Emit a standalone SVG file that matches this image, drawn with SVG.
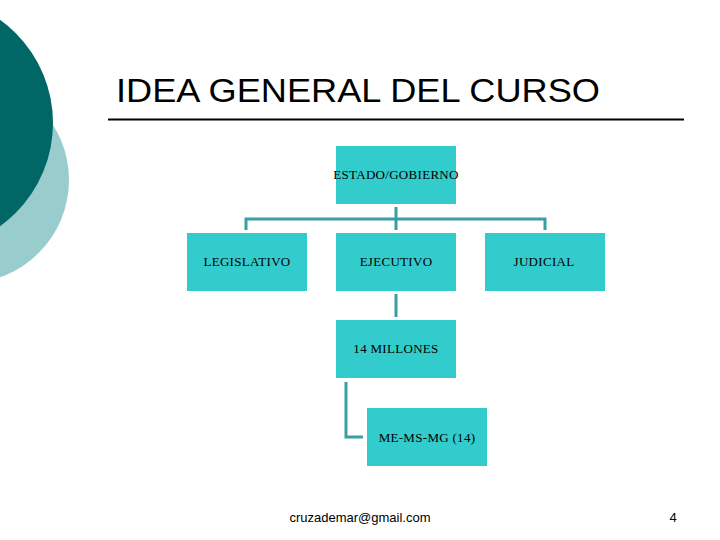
<svg xmlns="http://www.w3.org/2000/svg" width="720" height="540" viewBox="0 0 720 540">
<style>
.b{fill:#33CCCC}
.t{font-family:"Liberation Serif",serif;font-size:13px;fill:#000;text-anchor:middle;letter-spacing:0.3px}
.c{fill:none;stroke:#3A9FA5;stroke-width:3}
</style>
<rect width="720" height="540" fill="#fff"/>
<circle cx="-34" cy="180" r="103" fill="#99CCCC"/>
<circle cx="-74" cy="123" r="127" fill="#006666"/>
<text x="116" y="102" font-family="Liberation Sans,sans-serif" font-size="34" fill="#000" textLength="484" lengthAdjust="spacingAndGlyphs">IDEA GENERAL DEL CURSO</text>
<line x1="108" y1="119.5" x2="684" y2="119.5" stroke="#000" stroke-width="2"/>
<g id="connectors" class="c">
<path d="M396 207V230M246 230V219H545V230"/>
<path d="M396 294V317"/>
<path d="M346 382V437H363"/>
</g>
<g id="estado"><rect class="b" x="336" y="146" width="120" height="58"/><text class="t" x="396" y="179">ESTADO/GOBIERNO</text></g>
<g id="legislativo"><rect class="b" x="187" y="233" width="120" height="58"/><text class="t" x="247" y="266">LEGISLATIVO</text></g>
<g id="ejecutivo"><rect class="b" x="336" y="233" width="120" height="58"/><text class="t" x="396" y="266">EJECUTIVO</text></g>
<g id="judicial"><rect class="b" x="485" y="233" width="120" height="58"/><text class="t" x="544" y="266">JUDICIAL</text></g>
<g id="millones"><rect class="b" x="336" y="320" width="120" height="58"/><text class="t" x="396" y="353">14 MILLONES</text></g>
<g id="me"><rect class="b" x="367" y="408" width="120" height="58"/><text class="t" x="427" y="442">ME-MS-MG (14)</text></g>
<text x="360" y="522" font-family="Liberation Sans,sans-serif" font-size="13" text-anchor="middle">cruzademar@gmail.com</text>
<text x="673" y="522" font-family="Liberation Sans,sans-serif" font-size="13" text-anchor="middle">4</text>
</svg>
